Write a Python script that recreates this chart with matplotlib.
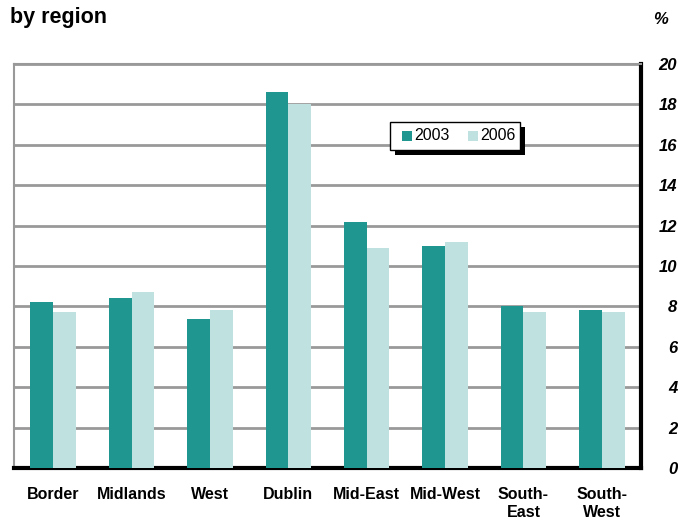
import numpy as np
import matplotlib.pyplot as plt
from matplotlib.patches import Rectangle

plt.rcParams['font.family'] = ['Liberation Sans', 'DejaVu Sans']

regions = ["Border", "Midlands", "West", "Dublin", "Mid-East", "Mid-West",
           "South-\nEast", "South-\nWest"]
vals_2003 = [8.2, 8.4, 7.4, 18.6, 12.2, 11.0, 8.0, 7.8]
vals_2006 = [7.7, 8.7, 7.8, 18.0, 10.9, 11.2, 7.7, 7.7]
years = ["2003", "2006"]
colors = ["#1f9690", "#bfe2e0"]

fig = plt.figure(figsize=(6.78, 5.22), dpi=100)
W, H = 678, 522
ax = fig.add_axes([14 / W, 1 - 468 / H, (641 - 14) / W, (468 - 64) / H])

x = np.arange(len(regions))
bw = 0.29
ax.bar(x - bw / 2, vals_2003, bw, color=colors[0], zorder=3)
ax.bar(x + bw / 2, vals_2006, bw, color=colors[1], zorder=3)

ax.set_xlim(-0.5, len(regions) - 0.5)
ax.set_ylim(0, 20)
ax.set_yticks(np.arange(0, 21, 2))
ax.yaxis.tick_right()
ax.tick_params(axis='y', length=0, pad=26)
for lab in ax.get_yticklabels():
    lab.set_fontsize(12)
    lab.set_fontweight('bold')
    lab.set_fontstyle('italic')
    lab.set_horizontalalignment('right')

ax.set_xticks(x)
ax.set_xticklabels(regions, fontsize=11.5, fontweight='bold', va='top',
                   linespacing=1.2)
ax.tick_params(axis='x', length=0, pad=14)

ax.grid(axis='y', color='#999999', linewidth=2, zorder=1)
ax.set_axisbelow(True)

for side in ['left', 'top']:
    ax.spines[side].set_color('#999999')
    ax.spines[side].set_linewidth(1.5)
for side in ['right', 'bottom']:
    ax.spines[side].set_color('black')
    ax.spines[side].set_linewidth(3)

# legend with drop shadow
lx, ly, lw, lh = 390, 122, 130, 28
fig.patches.append(Rectangle(((lx + 5) / W, 1 - (ly + lh + 5) / H), lw / W, lh / H,
                             transform=fig.transFigure, facecolor='black', zorder=5))
fig.patches.append(Rectangle((lx / W, 1 - (ly + lh) / H), lw / W, lh / H,
                             transform=fig.transFigure, facecolor='white',
                             edgecolor='black', linewidth=1, zorder=6))
for i, (yr, c) in enumerate(zip(years, colors)):
    sx = lx + 12 + i * 66
    fig.patches.append(Rectangle((sx / W, 1 - (ly + 19) / H), 10 / W, 10 / H,
                                 transform=fig.transFigure, facecolor=c, zorder=7))
    fig.text((sx + 12) / W, 1 - (ly + 14) / H, yr, fontsize=11.5, va='center',
             ha='left', zorder=8)

fig.text(10 / W, 1 - 18 / H, "by region", fontsize=15.5, fontweight='bold', va='center')
fig.text(660 / W, 1 - 20 / H, "%", fontsize=12, fontweight='bold', style='italic',
         va='center', ha='center')

fig.savefig("out.png", dpi=100)
